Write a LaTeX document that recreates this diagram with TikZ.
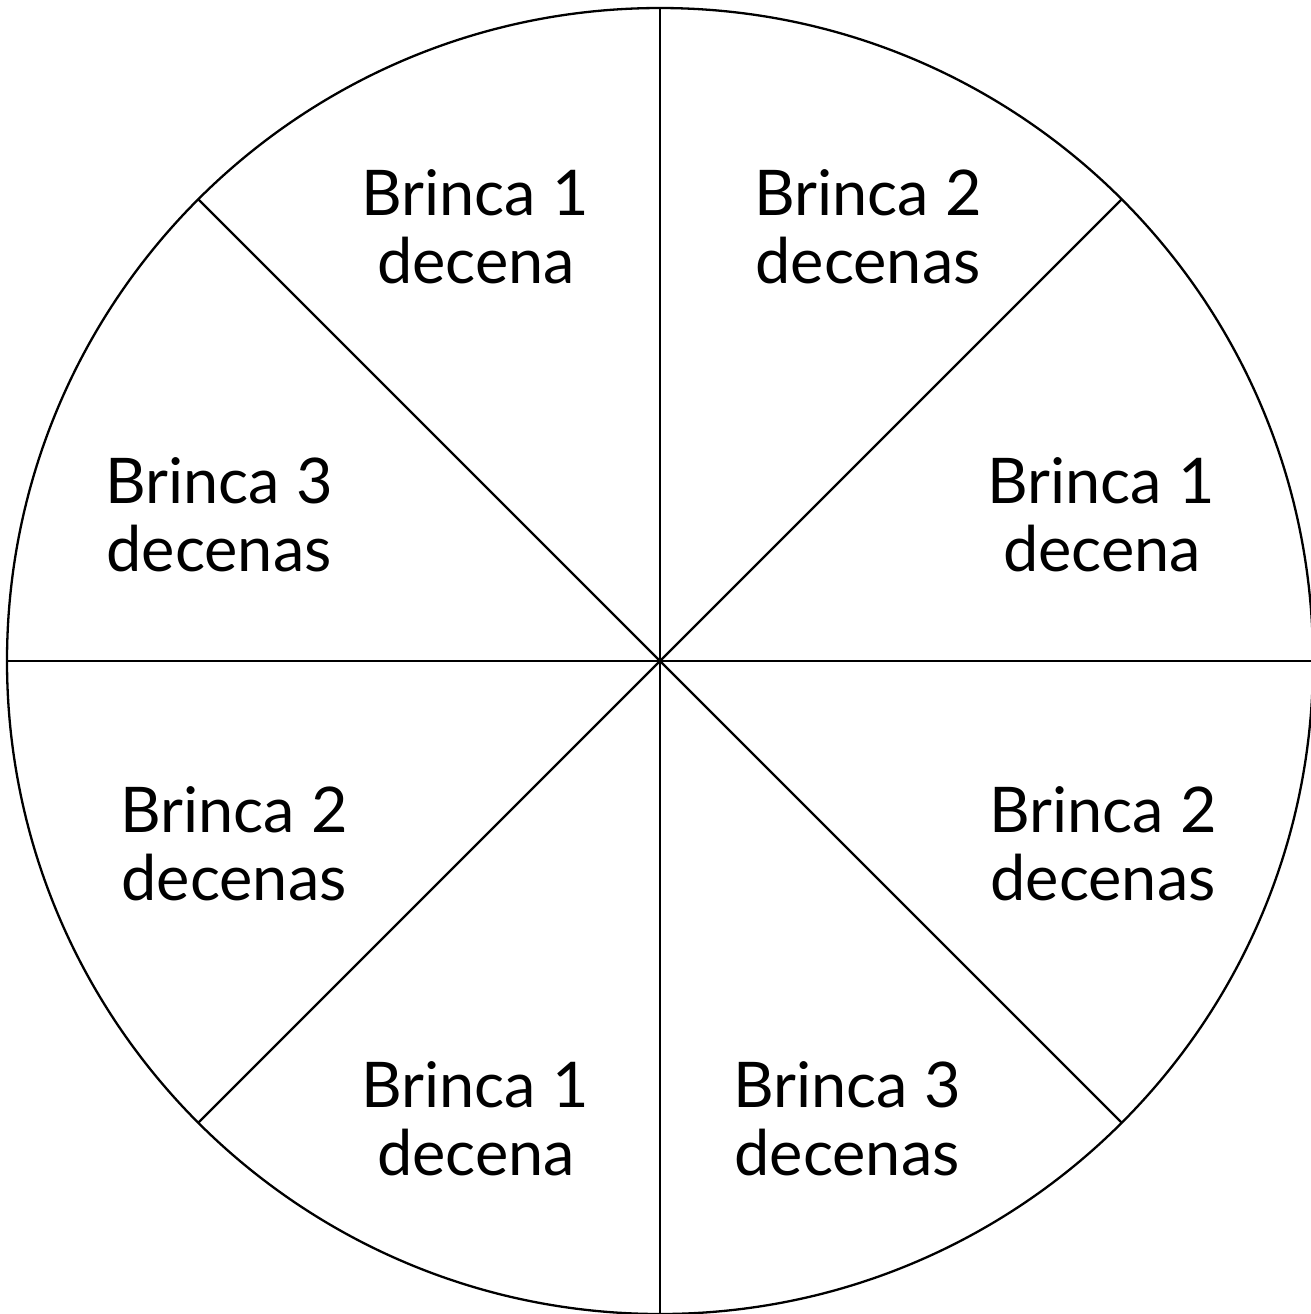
\documentclass[tikz,border=0pt]{standalone}
\usepackage{fontspec}
\setmainfont{Lato}
\begin{document}
\begin{tikzpicture}[x=0.5pt,y=-0.5pt,
  lbl/.style={anchor=base,inner sep=0pt,font=\fontsize{31.5}{34}\selectfont},
  wheel/.style={line width=1.15pt}]
\useasboundingbox (0,0) rectangle (1311,1314);
\coordinate (c) at (660,661);
\draw[wheel] (c) circle[radius=653];
\draw[wheel] (660,8) -- (660,1314);
\draw[wheel] (7,661) -- (1313,661);
\draw[wheel] (c) -- ++(-461.7,-461.7);
\draw[wheel] (c) -- ++(461.7,-461.7);
\draw[wheel] (c) -- ++(-461.7,461.7);
\draw[wheel] (c) -- ++(461.7,461.7);
% top-left
\node[lbl] (a1) at (475,215) {Brinca 1};
\node[lbl] (a2) at (476,283) {decena};
% top-right
\node[lbl] (b1) at (868,215) {Brinca 2};
\node[lbl] (b2) at (868,283) {decenas};
% right upper
\node[lbl] (c1) at (1101,503) {Brinca 1};
\node[lbl] (c2) at (1102,571) {decena};
% left upper
\node[lbl] (d1) at (219,503) {Brinca 3};
\node[lbl] (d2) at (219,571) {decenas};
% left lower
\node[lbl] (e1) at (234,832) {Brinca 2};
\node[lbl] (e2) at (234,900) {decenas};
% right lower
\node[lbl] (f1) at (1103,832) {Brinca 2};
\node[lbl] (f2) at (1103,900) {decenas};
% bottom-left
\node[lbl] (g1) at (475,1107) {Brinca 1};
\node[lbl] (g2) at (476,1175) {decena};
% bottom-right
\node[lbl] (h1) at (847,1107) {Brinca 3};
\node[lbl] (h2) at (847,1175) {decenas};
\end{tikzpicture}
\end{document}
